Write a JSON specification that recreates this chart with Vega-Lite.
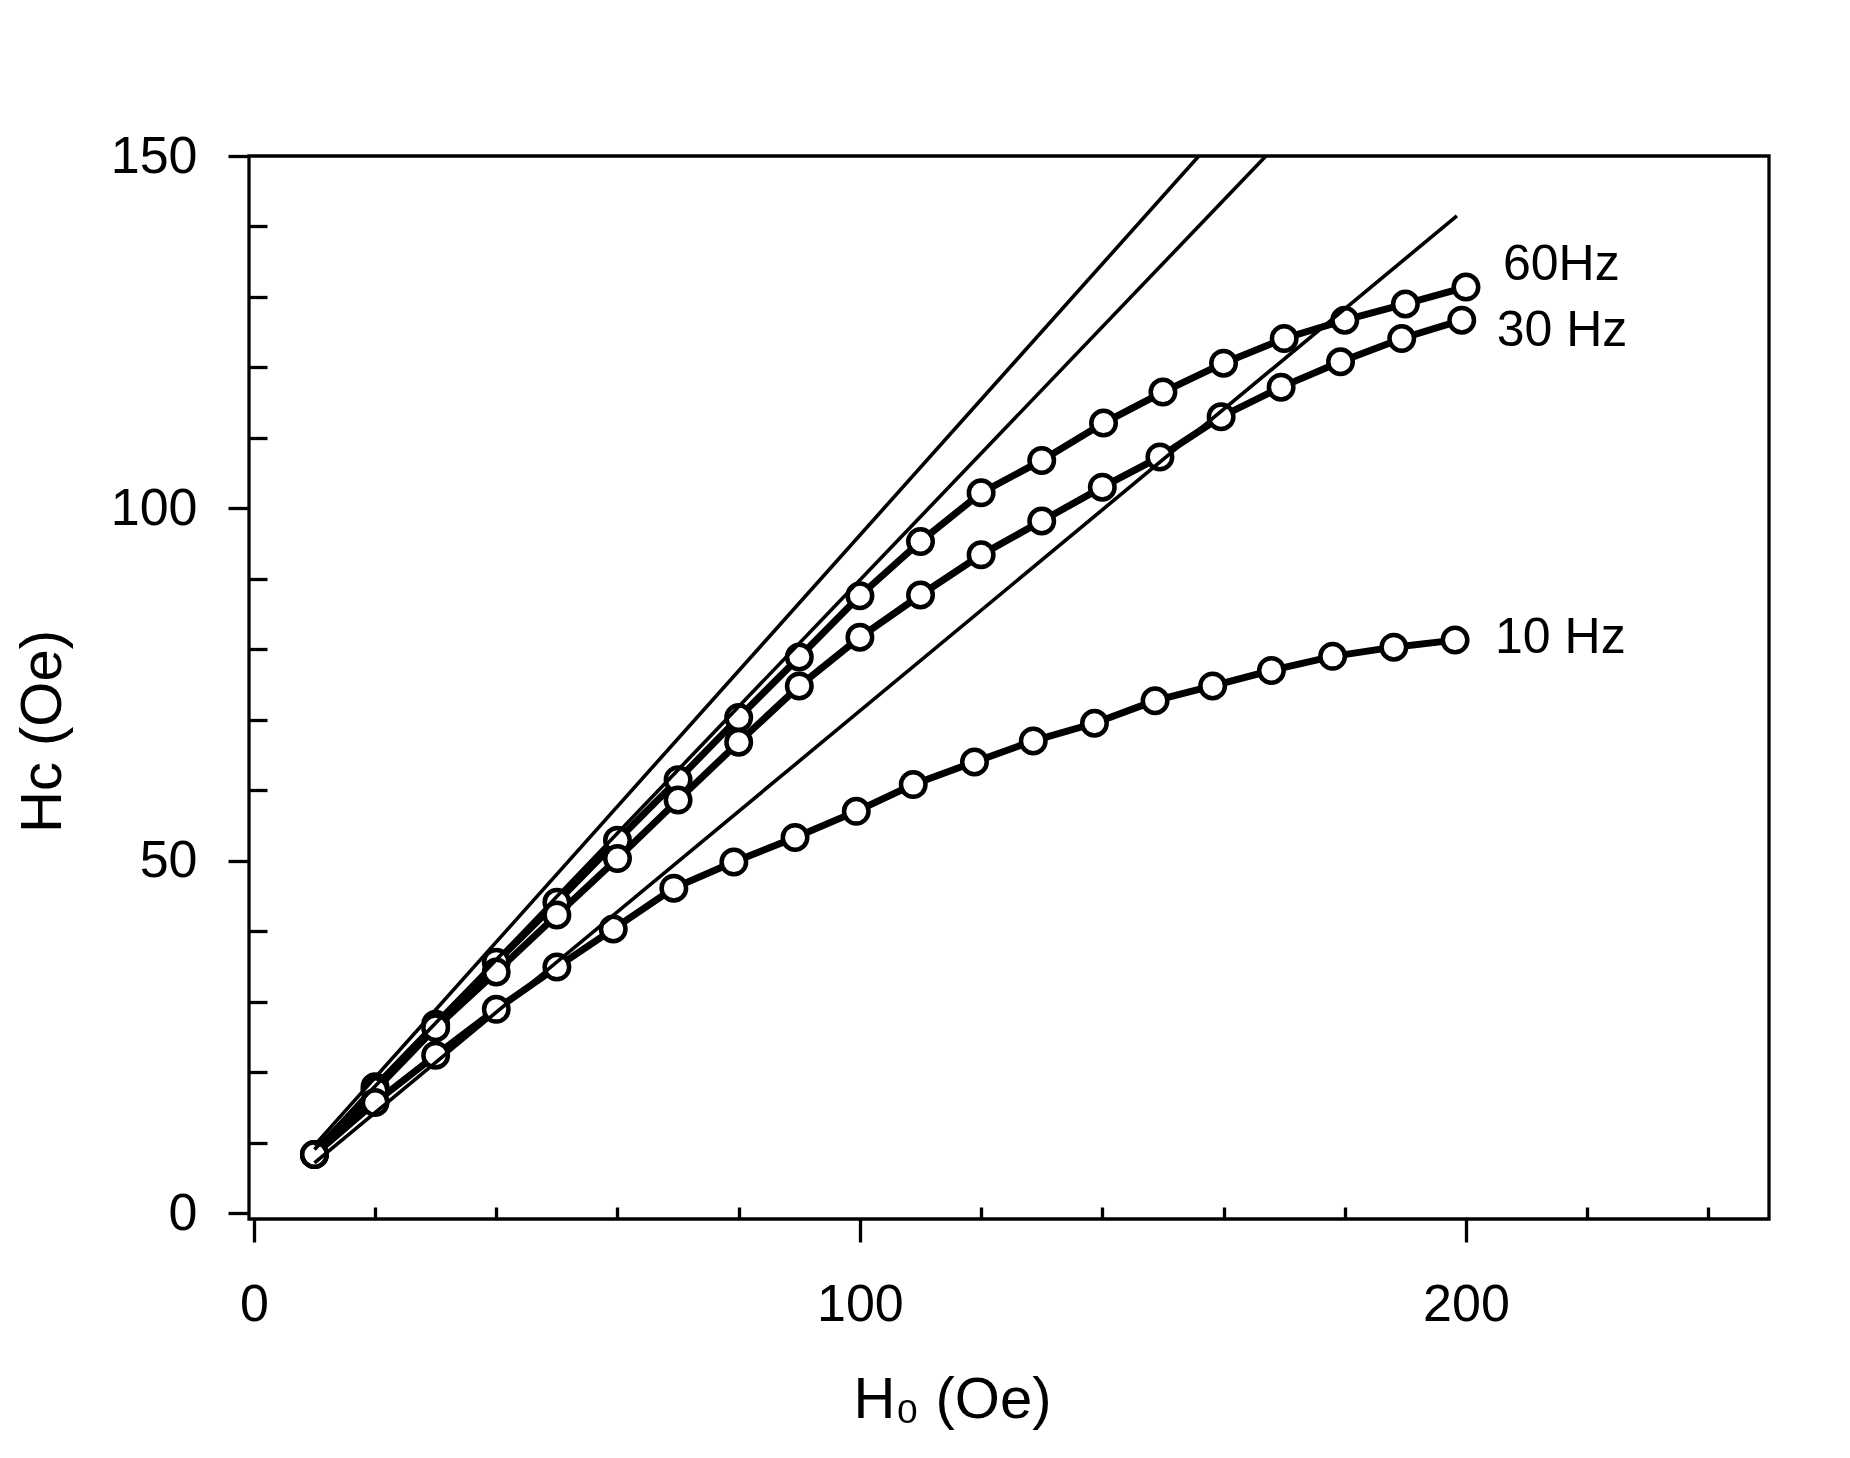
{
  "$schema": "https://vega.github.io/schema/vega-lite/v6.json",
  "width": 1520,
  "height": 1063,
  "autosize": {"type": "none"},
  "padding": {"left": 249, "top": 156, "right": 81, "bottom": 239},
  "background": "white",
  "config": {
    "view": {"stroke": "black", "strokeWidth": 3.3},
    "font": "Liberation Sans"
  },
  "datasets": {
    "series": [
      {"series": "60Hz", "x": 10, "y": 8.3},
      {"series": "60Hz", "x": 20, "y": 17.9},
      {"series": "60Hz", "x": 30, "y": 26.8},
      {"series": "60Hz", "x": 40, "y": 35.6},
      {"series": "60Hz", "x": 50, "y": 44.1},
      {"series": "60Hz", "x": 60, "y": 52.9},
      {"series": "60Hz", "x": 70, "y": 61.5},
      {"series": "60Hz", "x": 80, "y": 70.3},
      {"series": "60Hz", "x": 90, "y": 78.9},
      {"series": "60Hz", "x": 100, "y": 87.6},
      {"series": "60Hz", "x": 110, "y": 95.3},
      {"series": "60Hz", "x": 120, "y": 102.2},
      {"series": "60Hz", "x": 130, "y": 106.8},
      {"series": "60Hz", "x": 140.2, "y": 112.1},
      {"series": "60Hz", "x": 150, "y": 116.5},
      {"series": "60Hz", "x": 160, "y": 120.6},
      {"series": "60Hz", "x": 170, "y": 124.1},
      {"series": "60Hz", "x": 180, "y": 126.7},
      {"series": "60Hz", "x": 190, "y": 129.0},
      {"series": "60Hz", "x": 200, "y": 131.4},
      {"series": "30 Hz", "x": 10, "y": 8.3},
      {"series": "30 Hz", "x": 20, "y": 17.4},
      {"series": "30 Hz", "x": 30, "y": 26.3},
      {"series": "30 Hz", "x": 40, "y": 34.2},
      {"series": "30 Hz", "x": 50, "y": 42.3},
      {"series": "30 Hz", "x": 60, "y": 50.3},
      {"series": "30 Hz", "x": 70, "y": 58.6},
      {"series": "30 Hz", "x": 80, "y": 66.8},
      {"series": "30 Hz", "x": 90, "y": 74.8},
      {"series": "30 Hz", "x": 100, "y": 81.7},
      {"series": "30 Hz", "x": 110, "y": 87.7},
      {"series": "30 Hz", "x": 120, "y": 93.4},
      {"series": "30 Hz", "x": 130, "y": 98.2},
      {"series": "30 Hz", "x": 140, "y": 103.0},
      {"series": "30 Hz", "x": 149.5, "y": 107.3},
      {"series": "30 Hz", "x": 159.6, "y": 113.0},
      {"series": "30 Hz", "x": 169.5, "y": 117.2},
      {"series": "30 Hz", "x": 179.3, "y": 120.8},
      {"series": "30 Hz", "x": 189.4, "y": 124.1},
      {"series": "30 Hz", "x": 199.3, "y": 126.7},
      {"series": "10 Hz", "x": 10, "y": 8.3},
      {"series": "10 Hz", "x": 20, "y": 15.7},
      {"series": "10 Hz", "x": 30, "y": 22.4},
      {"series": "10 Hz", "x": 40, "y": 28.9},
      {"series": "10 Hz", "x": 50, "y": 34.9},
      {"series": "10 Hz", "x": 59.3, "y": 40.3},
      {"series": "10 Hz", "x": 69.3, "y": 46.1},
      {"series": "10 Hz", "x": 79.2, "y": 49.8},
      {"series": "10 Hz", "x": 89.3, "y": 53.3},
      {"series": "10 Hz", "x": 99.4, "y": 57.0},
      {"series": "10 Hz", "x": 108.8, "y": 60.8},
      {"series": "10 Hz", "x": 118.9, "y": 64.0},
      {"series": "10 Hz", "x": 128.6, "y": 67.0},
      {"series": "10 Hz", "x": 138.7, "y": 69.5},
      {"series": "10 Hz", "x": 148.7, "y": 72.7},
      {"series": "10 Hz", "x": 158.2, "y": 74.8},
      {"series": "10 Hz", "x": 167.9, "y": 77.0},
      {"series": "10 Hz", "x": 178.0, "y": 79.0},
      {"series": "10 Hz", "x": 188.1, "y": 80.3},
      {"series": "10 Hz", "x": 198.2, "y": 81.3}
    ],
    "fits": [
      {"line": "A", "x": 10, "y": 9.6},
      {"line": "A", "x": 158, "y": 152},
      {"line": "B", "x": 10, "y": 9.0},
      {"line": "B", "x": 170, "y": 152.7},
      {"line": "C", "x": 10, "y": 7.1},
      {"line": "C", "x": 198.5, "y": 141.5}
    ]
  },
  "layer": [
    {
      "data": {"name": "series"},
      "mark": {"type": "line", "color": "black", "strokeWidth": 7},
      "encoding": {
        "x": {
          "field": "x", "type": "quantitative",
          "scale": {"domain": [-0.8, 250], "nice": false, "zero": false},
          "axis": {
            "values": [0, 20, 40, 60, 80, 100, 120, 140, 160, 180, 200, 220, 240],
            "labelExpr": "datum.value % 100 === 0 ? datum.label : ''",
            "tickSize": {"condition": {"test": "datum.value % 100 === 0", "value": 23}, "value": -12},
            "tickWidth": 3.3, "tickColor": "black",
            "domain": false, "grid": false,
            "labelFontSize": 52, "labelFont": "Liberation Sans", "labelColor": "black",
            "labelPadding": 37,
            "title": "H₀ (Oe)",
            "titleFont": "Liberation Sans", "titleFontSize": 58, "titleFontWeight": "normal",
            "titleColor": "black", "titleX": 703, "titleY": 198,
            "titleBaseline": "alphabetic", "titleAlign": "center"
          }
        },
        "y": {
          "field": "y", "type": "quantitative",
          "scale": {"domain": [-0.85, 150], "nice": false, "zero": false},
          "axis": {
            "values": [0, 10, 20, 30, 40, 50, 60, 70, 80, 90, 100, 110, 120, 130, 140, 150],
            "labelExpr": "datum.value % 50 === 0 ? datum.label : ''",
            "tickSize": {"condition": {"test": "datum.value % 50 === 0", "value": 21}, "value": -18},
            "tickWidth": 3.3, "tickColor": "black",
            "domain": false, "grid": false,
            "labelFontSize": 52, "labelFont": "Liberation Sans", "labelColor": "black",
            "labelPadding": 31,
            "title": "Hc (Oe)",
            "titleFont": "Liberation Sans", "titleFontSize": 58, "titleFontWeight": "normal",
            "titleColor": "black", "titleX": -189, "titleY": 575, "titleAngle": -90,
            "titleBaseline": "alphabetic", "titleAlign": "center"
          }
        },
        "detail": {"field": "series"}
      }
    },
    {
      "data": {"name": "series"},
      "mark": {"type": "circle", "fill": "white", "stroke": "black", "strokeWidth": 4.5, "size": 600, "opacity": 1},
      "encoding": {
        "x": {"field": "x", "type": "quantitative"},
        "y": {"field": "y", "type": "quantitative"}
      }
    },
    {
      "data": {"name": "fits"},
      "mark": {"type": "line", "color": "black", "strokeWidth": 3.6, "clip": true},
      "encoding": {
        "x": {"field": "x", "type": "quantitative"},
        "y": {"field": "y", "type": "quantitative"},
        "detail": {"field": "line"}
      }
    },
    {
      "data": {"name": "series"},
      "transform": [
        {"joinaggregate": [{"op": "max", "field": "x", "as": "xmax"}], "groupby": ["series"]},
        {"filter": "datum.x === datum.xmax && datum.series === '60Hz'"}
      ],
      "mark": {"type": "text", "align": "left", "baseline": "middle", "fontSize": 50, "font": "Liberation Sans", "color": "black", "dx": 37, "dy": -22},
      "encoding": {
        "x": {"field": "x", "type": "quantitative"},
        "y": {"field": "y", "type": "quantitative"},
        "text": {"field": "series"}
      }
    },
    {
      "data": {"name": "series"},
      "transform": [
        {"joinaggregate": [{"op": "max", "field": "x", "as": "xmax"}], "groupby": ["series"]},
        {"filter": "datum.x === datum.xmax && datum.series === '30 Hz'"}
      ],
      "mark": {"type": "text", "align": "left", "baseline": "middle", "fontSize": 50, "font": "Liberation Sans", "color": "black", "dx": 35, "dy": 11},
      "encoding": {
        "x": {"field": "x", "type": "quantitative"},
        "y": {"field": "y", "type": "quantitative"},
        "text": {"field": "series"}
      }
    },
    {
      "data": {"name": "series"},
      "transform": [
        {"joinaggregate": [{"op": "max", "field": "x", "as": "xmax"}], "groupby": ["series"]},
        {"filter": "datum.x === datum.xmax && datum.series === '10 Hz'"}
      ],
      "mark": {"type": "text", "align": "left", "baseline": "middle", "fontSize": 50, "font": "Liberation Sans", "color": "black", "dx": 40, "dy": -2},
      "encoding": {
        "x": {"field": "x", "type": "quantitative"},
        "y": {"field": "y", "type": "quantitative"},
        "text": {"field": "series"}
      }
    }
  ]
}
